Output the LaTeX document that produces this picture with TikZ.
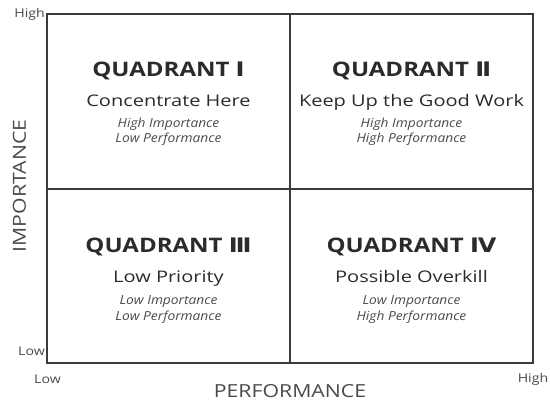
\documentclass[tikz,border=0pt]{standalone}
\usepackage{fontspec}
\setmainfont{Open Sans}
\newfontfamily\titlefont[FakeStretch=1.2]{Open Sans}
\newfontfamily\numfont[FakeStretch=1.2]{DejaVu Sans}
\newfontfamily\subfont[FakeStretch=1.25]{Open Sans}
\newfontfamily\notefont[FakeStretch=1.1]{Open Sans}
\newfontfamily\axfont[FakeStretch=1.18]{Open Sans}
\definecolor{txt}{HTML}{2B2B2B}
\definecolor{lbl}{HTML}{4A4A4A}
\definecolor{frame}{HTML}{3A3A3A}
\tikzset{
  qtitle/.style={anchor=base, inner sep=0pt, text=txt, font=\titlefont\fontsize{20}{23}\selectfont\bfseries},
  qsub/.style={anchor=base, inner sep=0pt, text=txt, font=\subfont\fontsize{16}{19}\selectfont},
  qnote/.style={anchor=base, inner sep=0pt, text=lbl, font=\notefont\fontsize{12.5}{15}\selectfont\itshape},
  axlabel/.style={inner sep=0pt, text=lbl, font=\axfont\fontsize{18}{22}\selectfont},
  ticklabel/.style={inner sep=0pt, text=lbl, font=\axfont\fontsize{12}{14}\selectfont},
  outer/.style={draw=frame, line width=1.9pt},
  inner/.style={draw=frame, line width=1.4pt}
}
\begin{document}
\begin{tikzpicture}[x=1pt,y=-1pt]
\useasboundingbox (0,0) rectangle (550,404);
\coordinate (tl) at (47,14);
\coordinate (br) at (533,363);
\coordinate (mt) at (290,14);
\coordinate (mb) at (290,363);
\coordinate (ml) at (47,189);
\coordinate (mr) at (533,189);
\draw[inner] (mt) -- (mb);
\draw[inner] (ml) -- (mr);
\draw[outer] (tl) rectangle (br);

% Quadrant I
\node[qtitle] (q1t) at (168.5,77) {QUADRANT {\numfont\bfseries Ⅰ}};
\node[qsub] (q1s) at (168.5,107) {Concentrate Here};
\node[qnote] (q1a) at (168.5,127.5) {High Importance};
\node[qnote] (q1b) at (168.5,142.5) {Low Performance};
% Quadrant II
\node[qtitle] (q2t) at (411.5,77) {QUADRANT {\numfont\bfseries Ⅱ}};
\node[qsub] (q2s) at (411.5,107) {Keep Up the Good Work};
\node[qnote] (q2a) at (411.5,127.5) {High Importance};
\node[qnote] (q2b) at (411.5,142.5) {High Performance};
% Quadrant III
\node[qtitle] (q3t) at (168.5,252) {QUADRANT {\numfont\bfseries Ⅲ}};
\node[qsub] (q3s) at (168.5,283) {Low Priority};
\node[qnote] (q3a) at (168.5,304.5) {Low Importance};
\node[qnote] (q3b) at (168.5,320.5) {Low Performance};
% Quadrant IV
\node[qtitle] (q4t) at (411.5,252) {QUADRANT {\numfont\bfseries Ⅳ}};
\node[qsub] (q4s) at (411.5,283) {Possible Overkill};
\node[qnote] (q4a) at (411.5,304.5) {Low Importance};
\node[qnote] (q4b) at (411.5,320.5) {High Performance};

% axes labels
\node[axlabel, rotate=90] (ylab) at (19.5,186) {IMPORTANCE};
\node[axlabel] (xlab) at (290,391) {PERFORMANCE};
\node[ticklabel, anchor=east] (yhigh) at (45,14) {High};
\node[ticklabel, anchor=east] (ylow) at (45,351) {Low};
\node[ticklabel] (xlow) at (47.5,379) {Low};
\node[ticklabel] (xhigh) at (533,379) {High};
\end{tikzpicture}
\end{document}
